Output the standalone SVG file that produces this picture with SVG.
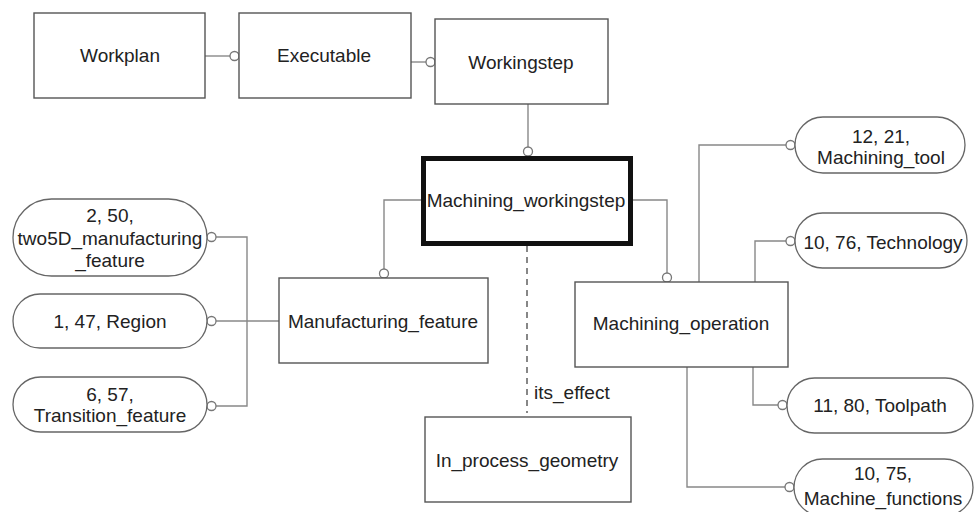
<svg xmlns="http://www.w3.org/2000/svg" width="976" height="512" viewBox="0 0 976 512">
  <style>
    text { font-family: "Liberation Sans", Arial, sans-serif; font-size: 19px; fill: #222; text-anchor: middle; }
    .box { fill: #fff; stroke: #555; stroke-width: 1.4; }
    .main { fill: #fff; stroke: #111; stroke-width: 5; }
    .pill { fill: #fff; stroke: #666; stroke-width: 1.3; }
    .link { fill: none; stroke: #888; stroke-width: 1.4; }
    .dash { fill: none; stroke: #555; stroke-width: 1.4; stroke-dasharray: 6 5; }
    .end { fill: #fff; stroke: #777; stroke-width: 1.3; }
    .lbl { text-anchor: start; }
  </style>

  <rect width="976" height="512" fill="#fff"/>

  <!-- connectors -->
  <g id="connectors">
    <path class="link" d="M205 56 H230"/>
    <path class="link" d="M411 62 H426"/>
    <path class="link" d="M528 104 V147"/>
    <path class="link" d="M421 200 H384 V269"/>
    <path class="link" d="M633 200 H667 V273"/>
    <path class="link" d="M699 282 V145 H786"/>
    <path class="link" d="M755 282 V241 H786"/>
    <path class="link" d="M753 367 V405 H778"/>
    <path class="link" d="M687 367 V487 H785"/>
    <path class="link" d="M279 321 H216"/>
    <path class="link" d="M216 237 H247 V406 H216"/>
    <path class="dash" d="M527 246 V413"/>
    <text class="lbl" x="534" y="399">its_effect</text>

    <circle class="end" cx="234.5" cy="56" r="4.5"/>
    <circle class="end" cx="430.5" cy="62" r="4.5"/>
    <circle class="end" cx="528" cy="151.5" r="4.5"/>
    <circle class="end" cx="384" cy="273.5" r="4.5"/>
    <circle class="end" cx="667" cy="277.5" r="4.5"/>
    <circle class="end" cx="790.5" cy="145" r="4.5"/>
    <circle class="end" cx="790.5" cy="241" r="4.5"/>
    <circle class="end" cx="782.5" cy="405" r="4.5"/>
    <circle class="end" cx="789.5" cy="487" r="4.5"/>
    <circle class="end" cx="211.5" cy="237" r="4.5"/>
    <circle class="end" cx="211.5" cy="321" r="4.5"/>
    <circle class="end" cx="211.5" cy="406" r="4.5"/>
  </g>

  <!-- entity boxes -->
  <g id="workplan">
    <rect class="box" x="34" y="13" width="171" height="85"/>
    <text x="120" y="62">Workplan</text>
  </g>
  <g id="executable">
    <rect class="box" x="239" y="13" width="172" height="85"/>
    <text x="324" y="62">Executable</text>
  </g>
  <g id="workingstep">
    <rect class="box" x="435" y="19" width="173" height="85"/>
    <text x="521" y="69">Workingstep</text>
  </g>
  <g id="machining_workingstep">
    <rect class="main" x="423.5" y="158.5" width="207" height="85"/>
    <text x="526" y="207">Machining_workingstep</text>
  </g>
  <g id="manufacturing_feature">
    <rect class="box" x="279" y="278" width="209" height="85"/>
    <text x="383" y="328">Manufacturing_feature</text>
  </g>
  <g id="machining_operation">
    <rect class="box" x="575" y="282" width="213" height="85"/>
    <text x="681" y="330">Machining_operation</text>
  </g>
  <g id="in_process_geometry">
    <rect class="box" x="425" y="417" width="206" height="85"/>
    <text x="527" y="467">In_process_geometry</text>
  </g>

  <!-- referenced schema entities -->
  <g id="two5d_manufacturing_feature">
    <rect class="pill" x="13" y="199" width="194" height="77" rx="38.5"/>
    <text x="110" y="222">2, 50,</text>
    <text x="110" y="245">two5D_manufacturing</text>
    <text x="110" y="267">_feature</text>
  </g>
  <g id="region">
    <rect class="pill" x="13" y="294" width="194" height="54" rx="27"/>
    <text x="110" y="328">1, 47, Region</text>
  </g>
  <g id="transition_feature">
    <rect class="pill" x="13" y="377" width="194" height="55" rx="27.5"/>
    <text x="110" y="401">6, 57,</text>
    <text x="110" y="422">Transition_feature</text>
  </g>
  <g id="machining_tool">
    <rect class="pill" x="795" y="117" width="170" height="56" rx="28"/>
    <text x="881" y="143">12, 21,</text>
    <text x="881" y="164">Machining_tool</text>
  </g>
  <g id="technology">
    <rect class="pill" x="795" y="213" width="172" height="55" rx="27.5"/>
    <text x="883" y="249">10, 76, Technology</text>
  </g>
  <g id="toolpath">
    <rect class="pill" x="787" y="378" width="186" height="55" rx="27.5"/>
    <text x="880" y="412">11, 80, Toolpath</text>
  </g>
  <g id="machine_functions">
    <rect class="pill" x="794" y="459" width="179" height="57" rx="28.5"/>
    <text x="883" y="480">10, 75,</text>
    <text x="883" y="505">Machine_functions</text>
  </g>
</svg>
